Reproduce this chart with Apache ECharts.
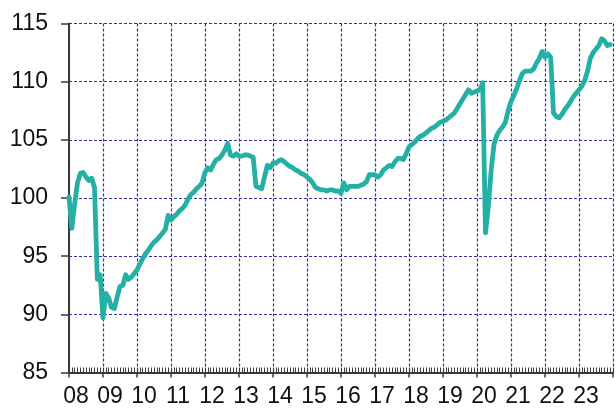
<!DOCTYPE html>
<html>
<head>
<meta charset="utf-8">
<script src="https://cdn.jsdelivr.net/npm/echarts@6/dist/echarts.min.js"></script>
<style>
html,body{margin:0;padding:0;background:#fff;}
#chart{width:616px;height:409px;}
</style>
</head>
<body>
<div id="chart"></div>
<script>
// Year tick labels (one per January)
var yearLabels = ['08','09','10','11','12','13','14','15','16','17','18','19','20','21','22','23'];
// Monthly index values, Jan..Dec of each year
var y2008 = [100.1, 97.4, 99.5, 101.3, 102.1, 102.2, 101.8, 101.5, 101.7, 100.9, 93.0, 93.4];
var y2009 = [89.7, 91.8, 91.4, 90.6, 90.5, 91.5, 92.4, 92.5, 93.4, 93.0, 93.2, 93.5];
var y2010 = [93.8, 94.3, 94.8, 95.2, 95.5, 95.9, 96.2, 96.4, 96.7, 97.0, 97.3, 98.5];
var y2011 = [98.1, 98.4, 98.6, 98.9, 99.1, 99.4, 99.9, 100.3, 100.5, 100.8, 101.0, 101.3];
var y2012 = [102.2, 102.6, 102.4, 102.9, 103.3, 103.4, 103.7, 104.1, 104.7, 103.7, 103.6, 103.8];
var y2013 = [103.6, 103.6, 103.7, 103.7, 103.6, 103.5, 101.0, 100.9, 100.8, 101.8, 102.8, 102.6];
var y2014 = [103.0, 103.0, 103.2, 103.3, 103.1, 102.9, 102.7, 102.6, 102.4, 102.3, 102.1, 102.0];
var y2015 = [101.8, 101.6, 101.3, 100.9, 100.8, 100.7, 100.7, 100.6, 100.7, 100.7, 100.6, 100.6];
var y2016 = [100.4, 101.3, 100.7, 101.0, 101.0, 101.0, 101.0, 101.1, 101.2, 101.4, 102.0, 102.0];
var y2017 = [102.0, 101.8, 102.0, 102.4, 102.6, 102.8, 102.7, 103.1, 103.4, 103.4, 103.3, 103.8];
var y2018 = [104.4, 104.6, 104.8, 105.1, 105.3, 105.4, 105.6, 105.8, 106.0, 106.1, 106.3, 106.5];
var y2019 = [106.6, 106.7, 106.9, 107.1, 107.3, 107.7, 108.1, 108.5, 108.9, 109.3, 109.0, 109.1];
var y2020 = [109.2, 109.3, 109.9, 97.0, 99.3, 102.4, 104.6, 105.4, 105.8, 106.1, 106.5, 107.5];
var y2021 = [108.3, 108.8, 109.4, 110.1, 110.7, 110.9, 110.9, 110.9, 111.1, 111.6, 112.0, 112.6];
var y2022 = [112.1, 112.4, 112.1, 107.3, 107.0, 106.9, 107.2, 107.6, 107.9, 108.3, 108.7, 109.0];
var y2023 = [109.3, 109.6, 110.1, 110.9, 112.0, 112.5, 112.8, 113.1, 113.7, 113.5, 113.1, 113.2];

var years = [y2008,y2009,y2010,y2011,y2012,y2013,y2014,y2015,y2016,y2017,y2018,y2019,y2020,y2021,y2022,y2023];
var series = [];
years.forEach(function(arr, yi){
  arr.forEach(function(v, mi){ series.push([yi*12+mi, v]); });
});

var gridColor = '#3030a8';
var axisColor = '#3a3a3a';
var labelFont = 'Liberation Sans, Arial, sans-serif';

var chart = echarts.init(document.getElementById('chart'), null, {renderer:'canvas'});
chart.setOption({
  animation: false,
  backgroundColor: '#ffffff',
  grid: {left: 69, top: 23.5, width: 550, height: 349, containLabel: false},
  xAxis: [{
    type: 'value', min: 0, max: 192, interval: 12,
    axisLine: {show: true, onZero: false, lineStyle: {color: axisColor, width: 2}},
    axisTick: {show: true, inside: true, length: 5, lineStyle: {color: axisColor, width: 1}},
    minorTick: {show: true, splitNumber: 12, length: 5, lineStyle: {color: axisColor, width: 1}},
    axisLabel: {show: false},
    splitLine: {show: true, lineStyle: {color: gridColor, type: [3,2], width: 1.2}},
    minorSplitLine: {show: false}
  },{
    type: 'value', min: 0, max: 192, interval: 12, position: 'bottom',
    axisLine: {show: false, onZero: false},
    axisTick: {show: true, inside: false, length: 5, lineStyle: {color: axisColor, width: 1.5}},
    axisLabel: {
      show: true, margin: 13, fontSize: 23, color: '#111', fontFamily: labelFont,
      padding: [0,0,0,14],
      formatter: function(v){ var i = Math.round(v/12); return (v % 12 === 0 && i < yearLabels.length) ? yearLabels[i] : ''; }
    },
    splitLine: {show: false}
  }],
  yAxis: {
    type: 'value', min: 85, max: 115, interval: 5,
    axisLine: {show: true, onZero: false, lineStyle: {color: axisColor, width: 2}},
    axisTick: {show: true, inside: false, length: 8, lineStyle: {color: axisColor, width: 1.5}},
    axisLabel: {margin: 21, fontSize: 23, color: '#111', fontFamily: labelFont},
    splitLine: {show: true, lineStyle: {color: gridColor, type: [3,2], width: 1.2}}
  },
  series: [{
    type: 'line', xAxisIndex: 0, data: series, showSymbol: false, symbol: 'none',
    lineStyle: {color: '#25b0a5', width: 4.8, join: 'round', cap: 'round'},
    z: 5
  }]
});
</script>
</body>
</html>
